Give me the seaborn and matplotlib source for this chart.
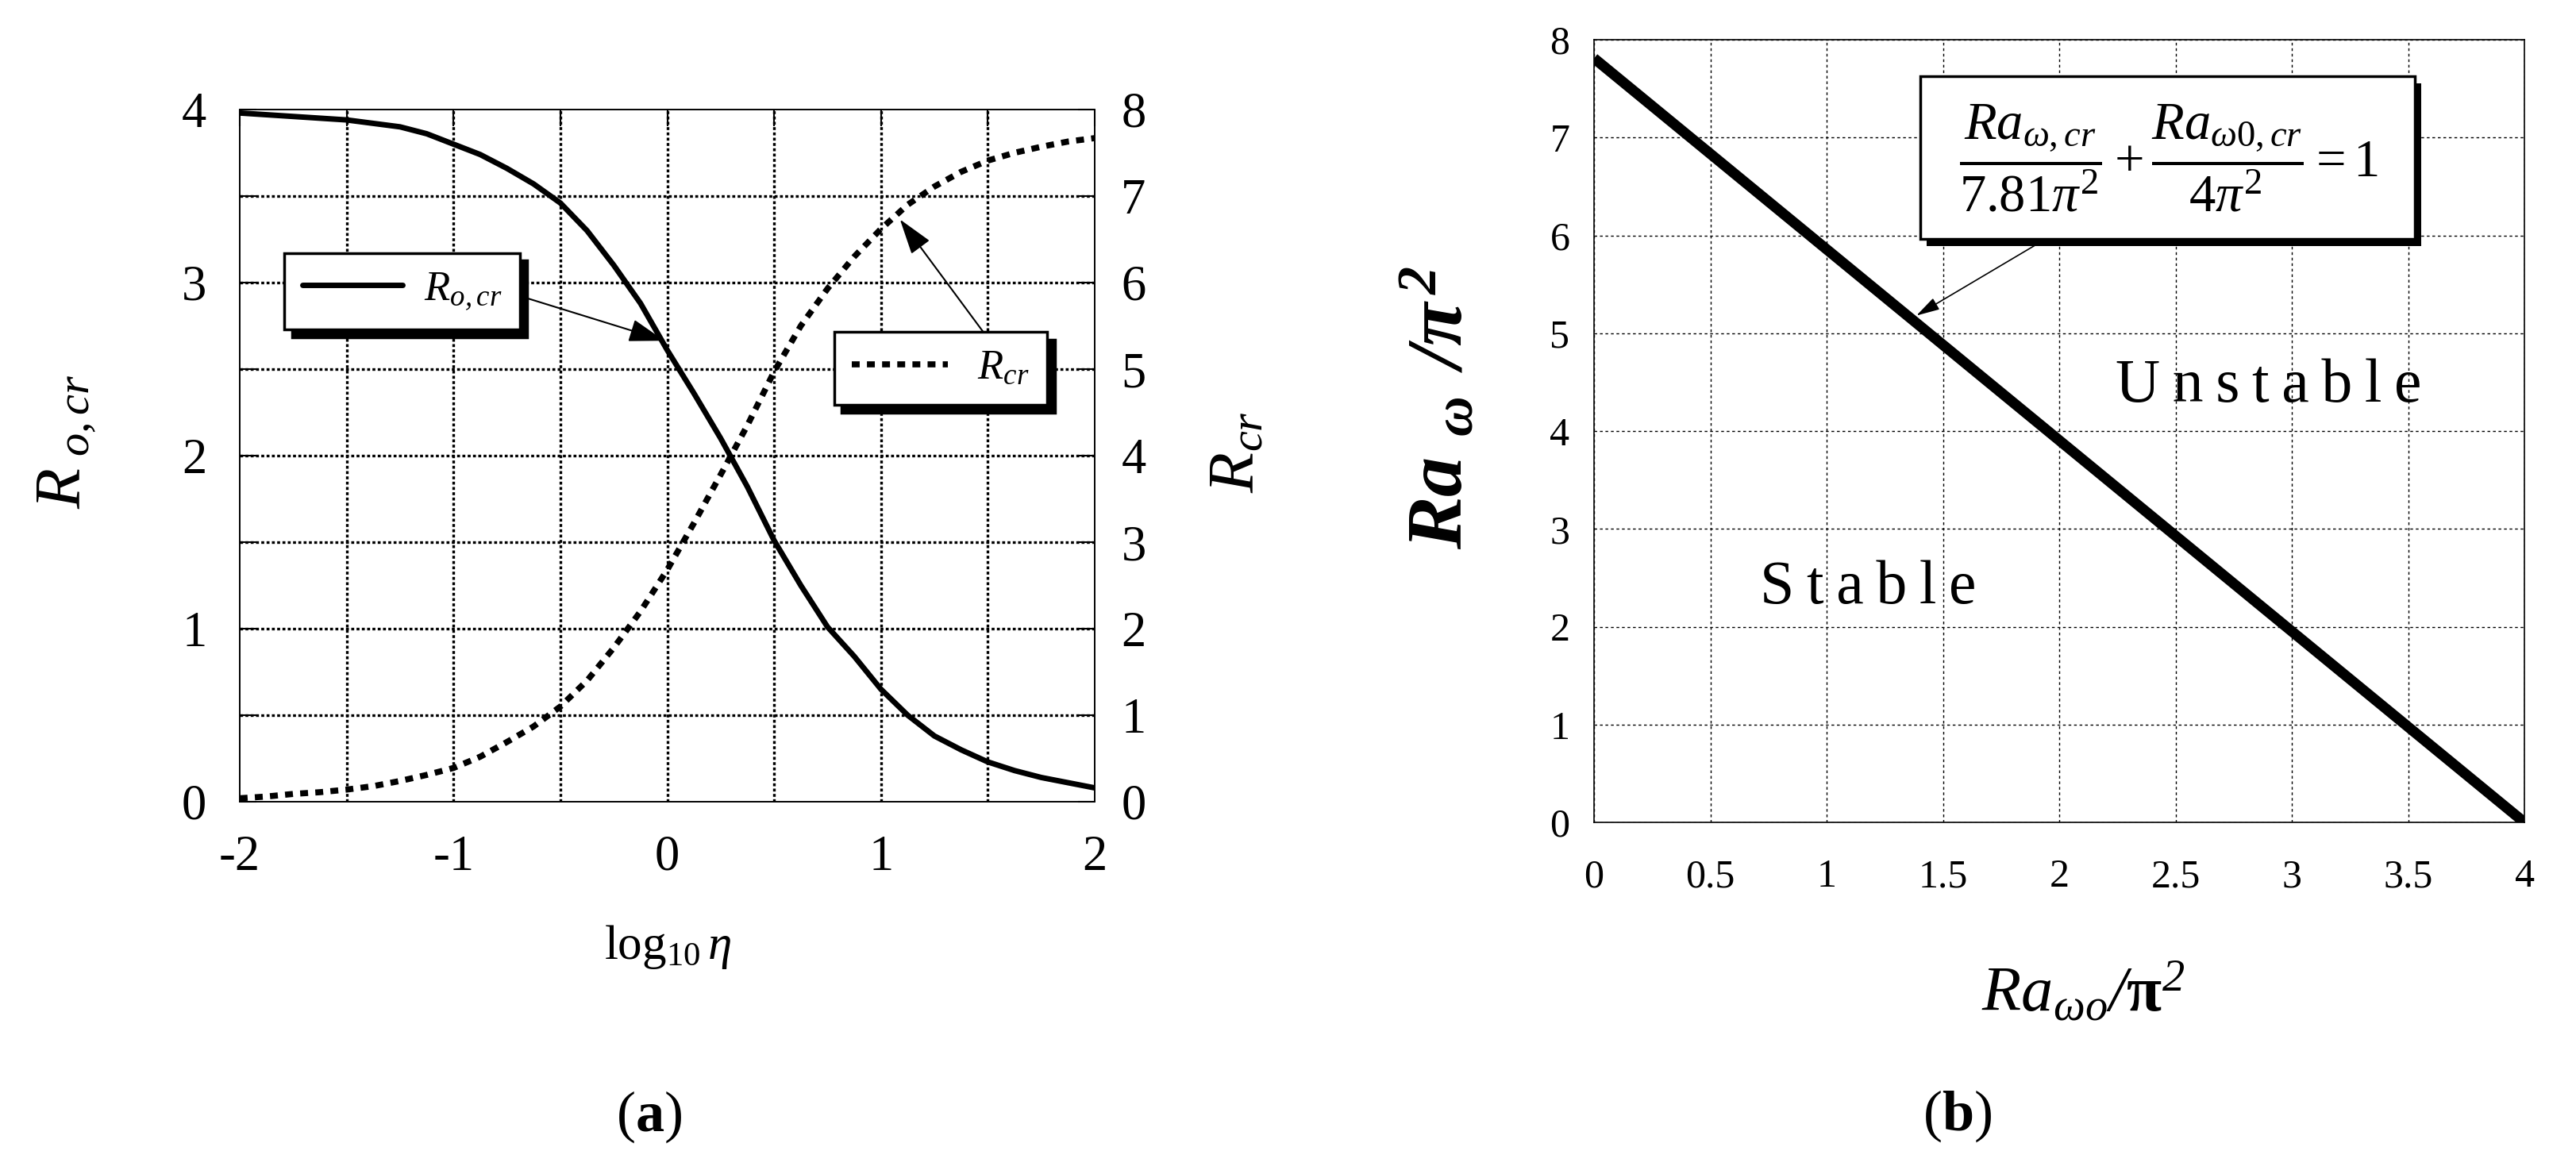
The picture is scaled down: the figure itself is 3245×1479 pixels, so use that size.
import numpy as np
import matplotlib
matplotlib.use("Agg")
import matplotlib.pyplot as plt
import matplotlib.patheffects as pe
from matplotlib.patches import Rectangle
import seaborn as sns

# ---------------- data ----------------
log_eta = [-2.0, -1.875, -1.75, -1.625, -1.5, -1.375, -1.25, -1.125, -1.0,
           -0.875, -0.75, -0.625, -0.5, -0.375, -0.25, -0.125, 0.0,
           0.125, 0.25, 0.375, 0.5, 0.625, 0.75, 0.875, 1.0,
           1.125, 1.25, 1.375, 1.5, 1.625, 1.75, 1.875, 2.0]
r_o_cr = [3.98, 3.97, 3.96, 3.95, 3.94, 3.92, 3.90, 3.86, 3.80,
          3.74, 3.66, 3.57, 3.46, 3.30, 3.10, 2.88, 2.61,
          2.36, 2.10, 1.82, 1.51, 1.25, 1.01, 0.84, 0.65,
          0.50, 0.38, 0.30, 0.23, 0.18, 0.14, 0.11, 0.08]
r_cr = [0.04, 0.06, 0.09, 0.11, 0.14, 0.18, 0.24, 0.31, 0.39,
        0.52, 0.69, 0.87, 1.10, 1.40, 1.78, 2.20, 2.68,
        3.22, 3.78, 4.35, 4.97, 5.50, 5.93, 6.30, 6.62,
        6.90, 7.11, 7.28, 7.41, 7.50, 7.57, 7.63, 7.67]

xticks_a = [-2, -1, 0, 1, 2]
xtick_labels_a = ["-2", "-1", "0", "1", "2"]
yticks_a_left = [0, 1, 2, 3, 4]
yticks_a_right = [0, 1, 2, 3, 4, 5, 6, 7, 8]

ra_w0 = [0.0, 4.0]          # Ra_wo / pi^2
ra_w = [7.81, 0.0]          # Ra_w / pi^2
xticks_b = [0, 0.5, 1, 1.5, 2, 2.5, 3, 3.5, 4]
xtick_labels_b = ["0", "0.5", "1", "1.5", "2", "2.5", "3", "3.5", "4"]
yticks_b = [0, 1, 2, 3, 4, 5, 6, 7, 8]

# ---------------- style ----------------
sns.set_theme(style="white")
plt.rcParams.update({
    "font.family": ["Liberation Serif", "DejaVu Serif"],
    "mathtext.fontset": "custom",
    "mathtext.rm": "Liberation Serif",
    "mathtext.it": "Liberation Serif:italic",
    "mathtext.bf": "Liberation Serif:bold",
    "mathtext.default": "regular",
    "axes.unicode_minus": False,
    "axes.edgecolor": "black",
    "axes.linewidth": 1.2,
    "xtick.color": "black",
    "ytick.color": "black",
    "text.color": "black",
    "axes.labelcolor": "black",
})

W, H = 3245, 1479
fig = plt.figure(figsize=(W / 100, H / 100), dpi=100)
fig.patch.set_facecolor("white")
axa = fig.add_axes([302 / W, 1 - 1010 / H, 1077 / W, 872 / H])
axb = fig.add_axes([2008 / W, 1 - 1036 / H, 1172 / W, 986 / H])

# ================= panel (a) =================
sns.lineplot(x=log_eta, y=r_o_cr, ax=axa, color="black", linewidth=5.0,
             legend=False)
axa2 = axa.twinx()
sns.lineplot(x=log_eta, y=r_cr, ax=axa2, color="black", linewidth=5.5,
             linestyle=(0, (1.3, 1.2)), legend=False)
line1 = axa.get_lines()[0]
line2 = axa2.get_lines()[0]
line1.set_solid_joinstyle("round")

axa.set_xlim(-2, 2)
axa.set_ylim(0, 4)
axa2.set_ylim(0, 8)
axa.set_xticks(xticks_a, xtick_labels_a)
axa.set_xticks([-1.5, -0.5, 0.5, 1.5], minor=True)
axa.set_yticks(yticks_a_left, [str(v) for v in yticks_a_left])
axa.set_yticks([0.5, 1.5, 2.5, 3.5], minor=True)
axa2.set_yticks(yticks_a_right, [str(v) for v in yticks_a_right])

axa.grid(True, which="both", color="black", linewidth=2.4,
         linestyle=(0, (1.1, 0.9)))
for t in axa.xaxis.get_major_ticks():
    if abs(t.get_loc()) == 2:
        t.gridline.set_visible(False)
for t in axa.yaxis.get_major_ticks():
    if t.get_loc() in (0, 4):
        t.gridline.set_visible(False)
axa2.grid(False)

axa.tick_params(axis="both", which="both", direction="in", length=15,
                width=1.5, top=True, right=False, labelsize=45)
axa.tick_params(axis="y", which="both", pad=30)
axa.tick_params(axis="x", which="both", pad=30)
axa2.tick_params(axis="y", direction="in", length=15, width=1.5,
                 labelsize=45, pad=24)

axa.set_xlabel(r"$\mathrm{log}_{10}\,\mathit{\eta}$", fontsize=44)
axa.xaxis.set_label_coords(0.5, -0.21)
axa.xaxis.label.set_va("center")

axa.set_ylabel(r"$R_{\ o,cr}$", fontsize=60, style="italic")
axa.yaxis.set_label_coords(-0.202, 0.52)
axa.yaxis.label.set_va("center")
axa2.set_ylabel(r"$R_{cr}$", fontsize=60, style="italic", rotation=90)
axa2.yaxis.set_label_coords(1.167, 0.505)
axa2.yaxis.label.set_va("center")

shadow_a = {"color": "black", "alpha": 1, "ox": 7, "oy": -7}
leg_prop = {"family": "Liberation Serif", "style": "italic", "size": 38}
leg1 = axa.legend(handles=[line1], labels=[r"$R_{o,cr}$"], loc="upper left",
                  bbox_to_anchor=(0.0524, 0.7927), bbox_transform=axa.transAxes,
                  borderaxespad=0, prop=leg_prop, frameon=True, fancybox=False,
                  edgecolor="black", framealpha=1, shadow=shadow_a,
                  borderpad=0.42, handlelength=2.4, handletextpad=0.5)
leg1.get_frame().set_linewidth(2.5)
leg2 = axa2.legend(handles=[line2], labels=[r"$R_{cr}$"], loc="upper left",
                   bbox_to_anchor=(0.695, 0.679), bbox_transform=axa2.transAxes,
                   borderaxespad=0, prop=leg_prop, frameon=True, fancybox=False,
                   edgecolor="black", framealpha=1, shadow=shadow_a,
                   borderpad=0.42, handlelength=2.3, handletextpad=0.7)
leg2.get_frame().set_linewidth(2.5)

arrow_a = dict(arrowstyle="-|>,head_length=1.0,head_width=0.32", color="black",
               lw=1.5, mutation_scale=28, shrinkA=0, shrinkB=0)
axa.annotate("", xy=(-0.013, 2.664), xytext=(-0.659, 2.911),
             arrowprops=arrow_a)
axa2.annotate("", xy=(1.089, 6.73), xytext=(1.476, 5.438),
              arrowprops=arrow_a, zorder=10)

fig.text(818 / W, 1 - 1407 / H, r"($\mathbf{a}$)", ha="center", va="center",
         fontsize=52)

# ================= panel (b) =================
sns.lineplot(x=ra_w0, y=ra_w, ax=axb, color="black", linewidth=9.5,
             legend=False)
axb.get_lines()[0].set_solid_capstyle("butt")
axb.set_xlim(0, 4)
axb.set_ylim(0, 8)
axb.set_xticks(xticks_b, xtick_labels_b)
axb.set_yticks(yticks_b, [str(v) for v in yticks_b])
axb.grid(True, color="black", linewidth=1.0, linestyle=(0, (2.5, 2.5)))
axb.tick_params(axis="both", length=0, labelsize=36)
axb.tick_params(axis="y", pad=22)
axb.tick_params(axis="x", pad=33)

axb.set_xlabel(r"$Ra_{\omega o}/\mathbf{\pi}^{2}$", fontsize=58, style="italic")
axb.xaxis.set_label_coords(0.526, -0.219)
axb.xaxis.label.set_va("center")
axb.set_ylabel(r"$Ra_{\hspace{0.5}\omega}\hspace{0.45}/\pi^{\hspace{0.2}2}$",
               fontsize=72, style="italic", fontweight="bold")
axb.yaxis.set_label_coords(-0.165, 0.53)
axb.yaxis.label.set_va("center")

box = Rectangle((1.403, 5.96), 2.126, 1.663, facecolor="white",
                edgecolor="black", linewidth=2.5, zorder=5,
                path_effects=[pe.SimplePatchShadow(offset=(6, -6),
                                                   shadow_rgbFace="black",
                                                   alpha=1.0),
                              pe.Normal()])
axb.add_patch(box)
eq = (r"$\dfrac{\mathit{Ra}_{\mathit{\omega,cr}}}{7.81\mathit{\pi}^{2}}"
      r"+\dfrac{\mathit{Ra}_{\mathit{\omega 0,cr}}}{4\mathit{\pi}^{2}}=1$")
axb.text(2.47, 6.79, eq, ha="center", va="center", fontsize=48, zorder=6)

axb.annotate("", xy=(1.386, 5.18), xytext=(1.908, 5.915),
             arrowprops=dict(arrowstyle="-|>,head_length=0.9,head_width=0.25",
                             color="black", lw=1.2, mutation_scale=20,
                             shrinkA=0, shrinkB=0), zorder=6)

thin = "\u2009"
axb.text(1.177, 2.24, thin.join("Stable"), ha="center", va="baseline",
         fontsize=56)
axb.text(2.90, 4.30, thin.join("Unstable"), ha="center", va="baseline",
         fontsize=56)

fig.text(2466 / W, 1 - 1406 / H, r"($\mathbf{b}$)", ha="center", va="center",
         fontsize=52)

fig.savefig("out.png", dpi=100, facecolor="white")
